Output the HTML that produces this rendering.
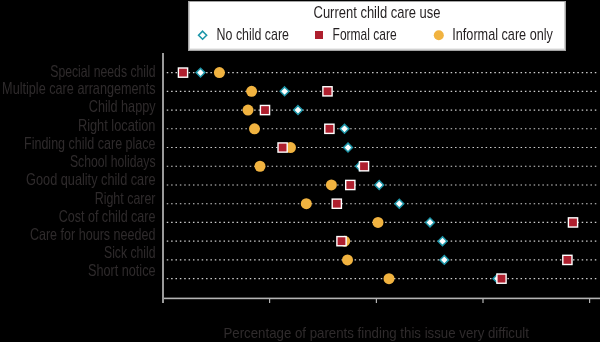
<!DOCTYPE html>
<html><head><meta charset="utf-8"><style>
html,body{margin:0;padding:0;background:#000;}
body{width:600px;height:342px;overflow:hidden;position:relative;}
svg{position:absolute;left:0;top:0;will-change:transform;}
.lab{font-family:"Liberation Sans",sans-serif;font-size:16.5px;fill:#2f2b2c;stroke:#2f2b2c;stroke-width:0px;}
.leg{font-family:"Liberation Sans",sans-serif;font-size:16.4px;fill:#231f20;}
</style></head><body>
<svg width="600" height="342" viewBox="0 0 600 342">
<!-- legend -->
<rect x="188" y="1" width="378" height="50" fill="#a4a4a4"/>
<rect x="189" y="2" width="376" height="48" fill="#d2d2d2"/>
<rect x="190" y="2" width="374" height="46.6" fill="#fff"/>
<text x="313.5" y="18" textLength="127" lengthAdjust="spacingAndGlyphs" class="leg">Current child care use</text>
<path d="M202.6 31.2L206.6 35.2L202.6 39.2L198.6 35.2Z" fill="#fff" stroke="#1c96a9" stroke-width="1.6"/>
<text x="216.6" y="40" textLength="72.4" lengthAdjust="spacingAndGlyphs" class="leg">No child care</text>
<rect x="315" y="31" width="8" height="8" fill="#ae1f2e"/>
<text x="332.6" y="40" textLength="64" lengthAdjust="spacingAndGlyphs" class="leg">Formal care</text>
<circle cx="438.8" cy="35.2" r="5" fill="#f1b340"/>
<text x="452.3" y="40" textLength="100.6" lengthAdjust="spacingAndGlyphs" class="leg">Informal care only</text>
<!-- axes -->
<rect x="162" y="53" width="2" height="250" fill="#9a9a9a"/>
<rect x="164" y="297.6" width="436" height="1.6" fill="#b4b4b4"/>
<rect x="269" y="298" width="1.2" height="5" fill="#b4b4b4"/>
<rect x="375.8" y="298" width="1.2" height="5" fill="#b4b4b4"/>
<rect x="482.4" y="298" width="1.2" height="5" fill="#b4b4b4"/>
<rect x="589" y="298" width="1.2" height="5" fill="#b4b4b4"/>
<line x1="166.75" y1="72.60" x2="597" y2="72.60" stroke="#cfcfcf" stroke-width="1.15" stroke-dasharray="1.5 2.868"/>
<line x1="166.75" y1="91.33" x2="597" y2="91.33" stroke="#cfcfcf" stroke-width="1.15" stroke-dasharray="1.5 2.868"/>
<line x1="166.75" y1="110.06" x2="597" y2="110.06" stroke="#cfcfcf" stroke-width="1.15" stroke-dasharray="1.5 2.868"/>
<line x1="166.75" y1="128.79" x2="597" y2="128.79" stroke="#cfcfcf" stroke-width="1.15" stroke-dasharray="1.5 2.868"/>
<line x1="166.75" y1="147.52" x2="597" y2="147.52" stroke="#cfcfcf" stroke-width="1.15" stroke-dasharray="1.5 2.868"/>
<line x1="166.75" y1="166.25" x2="597" y2="166.25" stroke="#cfcfcf" stroke-width="1.15" stroke-dasharray="1.5 2.868"/>
<line x1="166.75" y1="184.98" x2="597" y2="184.98" stroke="#cfcfcf" stroke-width="1.15" stroke-dasharray="1.5 2.868"/>
<line x1="166.75" y1="203.71" x2="597" y2="203.71" stroke="#cfcfcf" stroke-width="1.15" stroke-dasharray="1.5 2.868"/>
<line x1="166.75" y1="222.44" x2="597" y2="222.44" stroke="#cfcfcf" stroke-width="1.15" stroke-dasharray="1.5 2.868"/>
<line x1="166.75" y1="241.17" x2="597" y2="241.17" stroke="#cfcfcf" stroke-width="1.15" stroke-dasharray="1.5 2.868"/>
<line x1="166.75" y1="259.90" x2="597" y2="259.90" stroke="#cfcfcf" stroke-width="1.15" stroke-dasharray="1.5 2.868"/>
<line x1="166.75" y1="278.63" x2="597" y2="278.63" stroke="#cfcfcf" stroke-width="1.15" stroke-dasharray="1.5 2.868"/>
<text x="50.3" y="77.00" textLength="105.2" lengthAdjust="spacingAndGlyphs" class="lab">Special needs child</text>
<text x="2.1" y="94.00" textLength="153.4" lengthAdjust="spacingAndGlyphs" class="lab">Multiple care arrangements</text>
<text x="88.8" y="112.00" textLength="66.7" lengthAdjust="spacingAndGlyphs" class="lab">Child happy</text>
<text x="77.9" y="131.00" textLength="77.6" lengthAdjust="spacingAndGlyphs" class="lab">Right location</text>
<text x="24.0" y="149.00" textLength="131.5" lengthAdjust="spacingAndGlyphs" class="lab">Finding child care place</text>
<text x="69.9" y="167.00" textLength="85.6" lengthAdjust="spacingAndGlyphs" class="lab">School holidays</text>
<text x="26.1" y="185.00" textLength="129.4" lengthAdjust="spacingAndGlyphs" class="lab">Good quality child care</text>
<text x="94.7" y="204.00" textLength="60.8" lengthAdjust="spacingAndGlyphs" class="lab">Right carer</text>
<text x="58.7" y="222.00" textLength="96.8" lengthAdjust="spacingAndGlyphs" class="lab">Cost of child care</text>
<text x="29.9" y="240.00" textLength="125.6" lengthAdjust="spacingAndGlyphs" class="lab">Care for hours needed</text>
<text x="104.0" y="258.00" textLength="51.5" lengthAdjust="spacingAndGlyphs" class="lab">Sick child</text>
<text x="88.0" y="276.00" textLength="67.5" lengthAdjust="spacingAndGlyphs" class="lab">Short notice</text>
<path d="M200.50 68.20L204.90 72.60L200.50 77.00L196.10 72.60Z" fill="#fff" stroke="#1c96a9" stroke-width="1.5"/>
<circle cx="219.40" cy="72.60" r="5.5" fill="#f1b340"/>
<rect x="178.40" y="68.00" width="9.2" height="9.2" fill="#ae1f2e" stroke="#fff" stroke-width="1.4"/>
<path d="M284.60 86.93L289.00 91.33L284.60 95.73L280.20 91.33Z" fill="#fff" stroke="#1c96a9" stroke-width="1.5"/>
<circle cx="251.60" cy="91.33" r="5.5" fill="#f1b340"/>
<rect x="322.90" y="86.73" width="9.2" height="9.2" fill="#ae1f2e" stroke="#fff" stroke-width="1.4"/>
<path d="M298.00 105.66L302.40 110.06L298.00 114.46L293.60 110.06Z" fill="#fff" stroke="#1c96a9" stroke-width="1.5"/>
<circle cx="248.00" cy="110.06" r="5.5" fill="#f1b340"/>
<rect x="260.40" y="105.46" width="9.2" height="9.2" fill="#ae1f2e" stroke="#fff" stroke-width="1.4"/>
<path d="M344.50 124.39L348.90 128.79L344.50 133.19L340.10 128.79Z" fill="#fff" stroke="#1c96a9" stroke-width="1.5"/>
<circle cx="254.50" cy="128.79" r="5.5" fill="#f1b340"/>
<rect x="324.80" y="124.19" width="9.2" height="9.2" fill="#ae1f2e" stroke="#fff" stroke-width="1.4"/>
<path d="M348.00 143.12L352.40 147.52L348.00 151.92L343.60 147.52Z" fill="#fff" stroke="#1c96a9" stroke-width="1.5"/>
<circle cx="290.50" cy="147.52" r="5.5" fill="#f1b340"/>
<rect x="278.00" y="142.92" width="9.2" height="9.2" fill="#ae1f2e" stroke="#fff" stroke-width="1.4"/>
<path d="M360.00 161.85L364.40 166.25L360.00 170.65L355.60 166.25Z" fill="#fff" stroke="#1c96a9" stroke-width="1.5"/>
<circle cx="260.00" cy="166.25" r="5.5" fill="#f1b340"/>
<rect x="359.40" y="161.65" width="9.2" height="9.2" fill="#ae1f2e" stroke="#fff" stroke-width="1.4"/>
<path d="M379.20 180.58L383.60 184.98L379.20 189.38L374.80 184.98Z" fill="#fff" stroke="#1c96a9" stroke-width="1.5"/>
<circle cx="331.40" cy="184.98" r="5.5" fill="#f1b340"/>
<rect x="345.70" y="180.38" width="9.2" height="9.2" fill="#ae1f2e" stroke="#fff" stroke-width="1.4"/>
<path d="M399.30 199.31L403.70 203.71L399.30 208.11L394.90 203.71Z" fill="#fff" stroke="#1c96a9" stroke-width="1.5"/>
<circle cx="306.30" cy="203.71" r="5.5" fill="#f1b340"/>
<rect x="332.20" y="199.11" width="9.2" height="9.2" fill="#ae1f2e" stroke="#fff" stroke-width="1.4"/>
<path d="M430.00 218.04L434.40 222.44L430.00 226.84L425.60 222.44Z" fill="#fff" stroke="#1c96a9" stroke-width="1.5"/>
<circle cx="378.00" cy="222.44" r="5.5" fill="#f1b340"/>
<rect x="568.40" y="217.84" width="9.2" height="9.2" fill="#ae1f2e" stroke="#fff" stroke-width="1.4"/>
<path d="M442.50 236.77L446.90 241.17L442.50 245.57L438.10 241.17Z" fill="#fff" stroke="#1c96a9" stroke-width="1.5"/>
<circle cx="344.70" cy="241.17" r="5.5" fill="#f1b340"/>
<rect x="336.90" y="236.57" width="9.2" height="9.2" fill="#ae1f2e" stroke="#fff" stroke-width="1.4"/>
<path d="M444.30 255.50L448.70 259.90L444.30 264.30L439.90 259.90Z" fill="#fff" stroke="#1c96a9" stroke-width="1.5"/>
<circle cx="347.50" cy="259.90" r="5.5" fill="#f1b340"/>
<rect x="562.80" y="255.30" width="9.2" height="9.2" fill="#ae1f2e" stroke="#fff" stroke-width="1.4"/>
<path d="M497.50 274.23L501.90 278.63L497.50 283.03L493.10 278.63Z" fill="#fff" stroke="#1c96a9" stroke-width="1.5"/>
<circle cx="389.00" cy="278.63" r="5.5" fill="#f1b340"/>
<rect x="496.90" y="274.03" width="9.2" height="9.2" fill="#ae1f2e" stroke="#fff" stroke-width="1.4"/>
<text x="223.5" y="337.7" textLength="305.5" lengthAdjust="spacingAndGlyphs" class="lab" style="font-size:15px">Percentage of parents finding this issue very difficult</text>
</svg>
</body></html>
